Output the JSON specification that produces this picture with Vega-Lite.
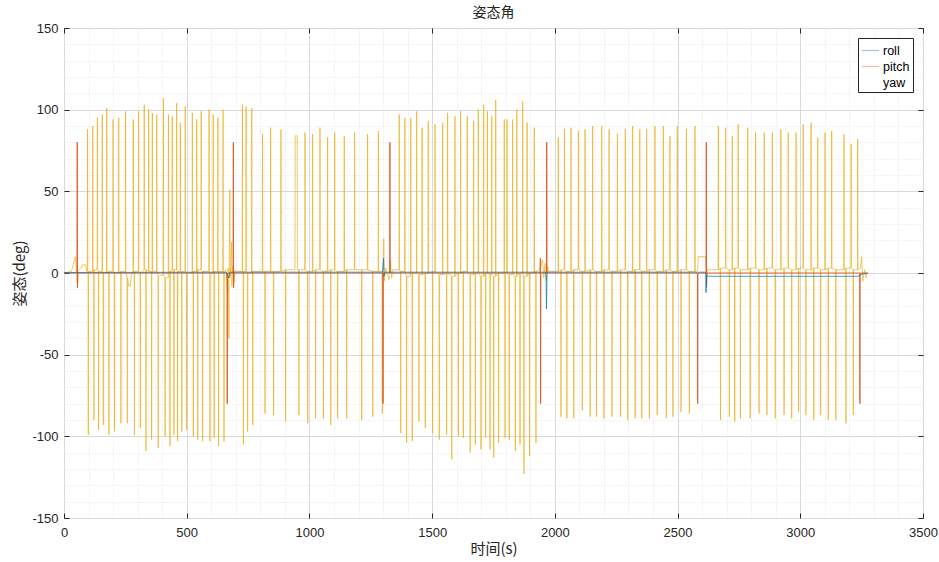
{
"$schema": "https://vega.github.io/schema/vega-lite/v6.json",
"width": 859, "height": 490,
"autosize": "none",
"padding": {"left": 64, "top": 28, "right": 16, "bottom": 44},
"background": "white",
"title": {"text": "姿态角", "font": "Noto Sans CJK SC", "fontSize": 14, "fontWeight": "normal", "color": "#262626", "offset": 2},
"config": {"view": {"stroke": "#a6a6a6", "strokeWidth": 1}},
"datasets": {
"roll": [{"t":0,"v":0.3},{"t":660,"v":0.5},{"t":672,"v":-3},{"t":676,"v":0.5},{"t":1298,"v":0.5},{"t":1302,"v":9},{"t":1304,"v":-2},{"t":1308,"v":0.5},{"t":1964,"v":0.5},{"t":1966,"v":-22},{"t":1968,"v":0.5},{"t":2614,"v":0.5},{"t":2616,"v":-12},{"t":2618,"v":-2},{"t":3240,"v":-2},{"t":3244,"v":-1},{"t":3275,"v":0}],
"pitch": [{"t":0,"v":0},{"t":53,"v":0},{"t":54,"v":80},{"t":55,"v":-9},{"t":57,"v":0},{"t":664,"v":0},{"t":665,"v":-80},{"t":666,"v":0},{"t":689,"v":0},{"t":690,"v":80},{"t":691,"v":-9},{"t":693,"v":0},{"t":1299,"v":0},{"t":1300,"v":-80},{"t":1301,"v":0},{"t":1327,"v":0},{"t":1328,"v":80},{"t":1329,"v":0},{"t":1940,"v":0},{"t":1941,"v":9},{"t":1942,"v":-80},{"t":1943,"v":0},{"t":1966,"v":0},{"t":1967,"v":80},{"t":1968,"v":0},{"t":2581,"v":0},{"t":2582,"v":-80},{"t":2583,"v":0},{"t":2616,"v":0},{"t":2617,"v":80},{"t":2618,"v":-9},{"t":2620,"v":0},{"t":3242,"v":0},{"t":3243,"v":-80},{"t":3244,"v":0},{"t":3275,"v":0}],
"yaw": [
{"t":0,"v":0},{"t":30,"v":1},{"t":38,"v":5},{"t":46,"v":10},{"t":50,"v":4},{"t":53,"v":-6},{"t":56,"v":1},{"t":70,"v":3},{"t":75,"v":5},{"t":88,"v":5},{"t":92,"v":1},
{"t":95,"v":1},{"t":96,"v":88},{"t":97,"v":1},{"t":98,"v":1},{"t":99,"v":-99},{"t":100,"v":1},
{"t":116,"v":1},{"t":117,"v":90},{"t":118,"v":1},{"t":121,"v":2},{"t":122,"v":-90},{"t":123,"v":2},
{"t":135,"v":2},{"t":136,"v":95},{"t":137,"v":2},{"t":140,"v":1},{"t":141,"v":-96},{"t":142,"v":1},
{"t":155,"v":1},{"t":156,"v":97},{"t":157,"v":1},{"t":159,"v":0},{"t":160,"v":-93},{"t":161,"v":0},
{"t":173,"v":0},{"t":174,"v":101},{"t":175,"v":0},{"t":182,"v":1},{"t":183,"v":-99},{"t":184,"v":1},
{"t":199,"v":1},{"t":200,"v":94},{"t":201,"v":1},{"t":205,"v":0},{"t":206,"v":-97},{"t":207,"v":0},
{"t":222,"v":0},{"t":223,"v":95},{"t":224,"v":0},{"t":231,"v":1},{"t":232,"v":-92},{"t":233,"v":1},
{"t":250,"v":1},{"t":251,"v":99},{"t":252,"v":1},{"t":257,"v":-3},{"t":258,"v":-92},{"t":259,"v":-3},
{"t":264,"v":-8},{"t":270,"v":-8},{"t":275,"v":0},
{"t":281,"v":0},{"t":282,"v":94},{"t":283,"v":0},{"t":286,"v":1},{"t":287,"v":-99},{"t":288,"v":1},
{"t":303,"v":1},{"t":304,"v":99},{"t":305,"v":1},{"t":310,"v":0},{"t":311,"v":-95},{"t":312,"v":0},
{"t":326,"v":2},{"t":327,"v":103},{"t":328,"v":2},{"t":333,"v":2},{"t":334,"v":-109},{"t":335,"v":2},
{"t":344,"v":1},{"t":345,"v":100},{"t":346,"v":1},{"t":356,"v":1},{"t":357,"v":-102},{"t":358,"v":1},
{"t":359,"v":1},{"t":360,"v":98},{"t":361,"v":1},
{"t":377,"v":1},{"t":378,"v":97},{"t":379,"v":1},{"t":383,"v":-2},{"t":384,"v":-107},{"t":385,"v":-2},
{"t":404,"v":-1},{"t":405,"v":107},{"t":406,"v":-1},{"t":411,"v":-3},{"t":412,"v":-100},{"t":413,"v":-3},
{"t":425,"v":-3},{"t":426,"v":97},{"t":427,"v":1},{"t":431,"v":1},{"t":432,"v":-106},{"t":433,"v":1},
{"t":440,"v":1},{"t":441,"v":96},{"t":442,"v":2},{"t":447,"v":2},{"t":448,"v":-99},{"t":449,"v":2},
{"t":458,"v":2},{"t":459,"v":104},{"t":460,"v":2},{"t":462,"v":1},{"t":463,"v":-103},{"t":464,"v":1},
{"t":473,"v":1},{"t":474,"v":92},{"t":475,"v":1},{"t":479,"v":1},{"t":480,"v":-97},{"t":481,"v":1},
{"t":493,"v":1},{"t":494,"v":102},{"t":495,"v":1},{"t":499,"v":0},{"t":500,"v":-96},{"t":501,"v":0},
{"t":522,"v":0},{"t":523,"v":98},{"t":524,"v":0},{"t":526,"v":1},{"t":527,"v":-100},{"t":528,"v":1},
{"t":540,"v":1},{"t":541,"v":94},{"t":542,"v":1},{"t":544,"v":2},{"t":545,"v":-102},{"t":546,"v":2},
{"t":558,"v":2},{"t":559,"v":99},{"t":560,"v":2},{"t":564,"v":1},{"t":565,"v":-103},{"t":566,"v":1},
{"t":590,"v":1},{"t":591,"v":100},{"t":592,"v":1},{"t":594,"v":0},{"t":595,"v":-103},{"t":596,"v":0},
{"t":607,"v":0},{"t":608,"v":97},{"t":609,"v":0},{"t":611,"v":1},{"t":612,"v":-101},{"t":613,"v":1},
{"t":626,"v":1},{"t":627,"v":95},{"t":628,"v":1},{"t":629,"v":1},{"t":630,"v":-106},{"t":631,"v":1},
{"t":647,"v":1},{"t":648,"v":100},{"t":649,"v":1},{"t":651,"v":0},{"t":652,"v":-103},{"t":653,"v":0},
{"t":660,"v":2},{"t":664,"v":-5},{"t":667,"v":-12},{"t":669,"v":3},{"t":672,"v":-40},{"t":673,"v":2},{"t":676,"v":51},{"t":677,"v":-3},{"t":680,"v":5},{"t":683,"v":19},{"t":684,"v":-8},{"t":688,"v":4},{"t":692,"v":-6},{"t":696,"v":2},{"t":700,"v":1},
{"t":726,"v":1},{"t":727,"v":103},{"t":728,"v":1},{"t":730,"v":1},{"t":731,"v":-105},{"t":732,"v":1},
{"t":741,"v":1},{"t":742,"v":102},{"t":743,"v":1},{"t":747,"v":0},{"t":748,"v":-97},{"t":749,"v":0},
{"t":764,"v":0},{"t":765,"v":101},{"t":766,"v":0},{"t":768,"v":1},{"t":769,"v":-93},{"t":770,"v":1},
{"t":808,"v":1},{"t":809,"v":85},{"t":810,"v":1},{"t":818,"v":1},{"t":819,"v":-86},{"t":820,"v":1},
{"t":841,"v":1},{"t":842,"v":89},{"t":843,"v":1},{"t":853,"v":1},{"t":854,"v":-87},{"t":855,"v":1},
{"t":883,"v":1},{"t":884,"v":88},{"t":885,"v":1},{"t":902,"v":2},{"t":903,"v":-91},{"t":904,"v":2},
{"t":941,"v":2},{"t":942,"v":84},{"t":950,"v":84},{"t":951,"v":2},{"t":956,"v":2},{"t":957,"v":-87},{"t":958,"v":2},
{"t":981,"v":2},{"t":982,"v":86},{"t":983,"v":2},{"t":992,"v":1},{"t":993,"v":-92},{"t":994,"v":1},
{"t":1012,"v":1},{"t":1013,"v":85},{"t":1014,"v":1},{"t":1024,"v":2},{"t":1025,"v":-89},{"t":1026,"v":2},
{"t":1042,"v":2},{"t":1043,"v":89},{"t":1044,"v":2},{"t":1056,"v":1},{"t":1057,"v":-89},{"t":1058,"v":1},
{"t":1073,"v":1},{"t":1074,"v":83},{"t":1075,"v":1},{"t":1086,"v":2},{"t":1087,"v":-93},{"t":1088,"v":2},
{"t":1102,"v":2},{"t":1103,"v":86},{"t":1104,"v":2},{"t":1114,"v":1},{"t":1115,"v":-89},{"t":1116,"v":1},
{"t":1141,"v":1},{"t":1142,"v":84},{"t":1143,"v":1},{"t":1151,"v":2},{"t":1152,"v":-89},{"t":1153,"v":2},
{"t":1183,"v":2},{"t":1184,"v":86},{"t":1185,"v":2},{"t":1212,"v":2},{"t":1213,"v":-90},{"t":1214,"v":2},
{"t":1236,"v":2},{"t":1237,"v":85},{"t":1238,"v":2},{"t":1257,"v":1},{"t":1258,"v":-88},{"t":1259,"v":1},
{"t":1280,"v":1},{"t":1281,"v":87},{"t":1282,"v":1},{"t":1296,"v":1},{"t":1297,"v":-86},{"t":1298,"v":1},
{"t":1300,"v":5},{"t":1303,"v":21},{"t":1305,"v":-5},{"t":1310,"v":3},{"t":1318,"v":-1},{"t":1324,"v":-4},{"t":1330,"v":8},{"t":1335,"v":-3},{"t":1340,"v":2},
{"t":1365,"v":2},{"t":1366,"v":97},{"t":1367,"v":2},{"t":1371,"v":1},{"t":1372,"v":-98},{"t":1373,"v":1},
{"t":1388,"v":1},{"t":1389,"v":95},{"t":1390,"v":1},{"t":1395,"v":-2},{"t":1396,"v":-104},{"t":1397,"v":-2},
{"t":1412,"v":-2},{"t":1413,"v":95},{"t":1414,"v":0},{"t":1418,"v":0},{"t":1419,"v":-103},{"t":1420,"v":0},
{"t":1436,"v":0},{"t":1437,"v":99},{"t":1438,"v":0},{"t":1445,"v":-1},{"t":1446,"v":-91},{"t":1447,"v":-1},
{"t":1458,"v":-1},{"t":1459,"v":89},{"t":1460,"v":-1},{"t":1471,"v":0},{"t":1472,"v":-95},{"t":1473,"v":0},
{"t":1483,"v":0},{"t":1484,"v":93},{"t":1485,"v":0},{"t":1501,"v":1},{"t":1502,"v":-98},{"t":1503,"v":1},
{"t":1511,"v":1},{"t":1512,"v":91},{"t":1513,"v":1},{"t":1528,"v":-1},{"t":1529,"v":-102},{"t":1530,"v":-1},
{"t":1542,"v":-1},{"t":1543,"v":92},{"t":1544,"v":-1},{"t":1558,"v":0},{"t":1559,"v":-99},{"t":1560,"v":0},
{"t":1562,"v":0},{"t":1563,"v":98},{"t":1564,"v":0},{"t":1579,"v":-2},{"t":1580,"v":-114},{"t":1581,"v":-2},
{"t":1592,"v":-2},{"t":1593,"v":96},{"t":1594,"v":-2},{"t":1606,"v":0},{"t":1607,"v":-100},{"t":1608,"v":0},
{"t":1615,"v":0},{"t":1616,"v":99},{"t":1617,"v":0},{"t":1626,"v":1},{"t":1627,"v":-101},{"t":1628,"v":1},
{"t":1642,"v":1},{"t":1643,"v":96},{"t":1644,"v":1},{"t":1654,"v":-1},{"t":1655,"v":-110},{"t":1656,"v":-1},
{"t":1668,"v":-1},{"t":1669,"v":93},{"t":1670,"v":-1},{"t":1675,"v":0},{"t":1676,"v":-105},{"t":1677,"v":0},
{"t":1687,"v":0},{"t":1688,"v":100},{"t":1689,"v":0},{"t":1698,"v":-2},{"t":1699,"v":-108},{"t":1700,"v":-2},
{"t":1709,"v":-2},{"t":1710,"v":103},{"t":1711,"v":-2},{"t":1717,"v":0},{"t":1718,"v":-101},{"t":1719,"v":0},
{"t":1724,"v":0},{"t":1725,"v":99},{"t":1726,"v":0},{"t":1735,"v":-1},{"t":1736,"v":-108},{"t":1737,"v":-1},
{"t":1742,"v":-1},{"t":1743,"v":96},{"t":1744,"v":-1},{"t":1750,"v":-2},{"t":1751,"v":-113},{"t":1752,"v":-2},
{"t":1758,"v":-2},{"t":1759,"v":106},{"t":1760,"v":-2},{"t":1770,"v":0},{"t":1771,"v":-104},{"t":1772,"v":0},
{"t":1793,"v":0},{"t":1794,"v":94},{"t":1795,"v":0},{"t":1796,"v":0},{"t":1797,"v":-101},{"t":1798,"v":0},
{"t":1804,"v":0},{"t":1805,"v":94},{"t":1806,"v":0},{"t":1813,"v":-1},{"t":1814,"v":-102},{"t":1815,"v":-1},
{"t":1827,"v":-1},{"t":1828,"v":94},{"t":1829,"v":-1},{"t":1838,"v":-2},{"t":1839,"v":-109},{"t":1840,"v":-2},
{"t":1844,"v":-2},{"t":1845,"v":100},{"t":1846,"v":-2},{"t":1857,"v":0},{"t":1858,"v":-105},{"t":1859,"v":0},
{"t":1868,"v":0},{"t":1869,"v":105},{"t":1870,"v":0},{"t":1873,"v":-2},{"t":1874,"v":-123},{"t":1875,"v":-2},
{"t":1886,"v":-2},{"t":1887,"v":92},{"t":1888,"v":-2},{"t":1896,"v":0},{"t":1897,"v":-112},{"t":1898,"v":0},
{"t":1915,"v":0},{"t":1916,"v":89},{"t":1917,"v":0},{"t":1922,"v":1},{"t":1923,"v":-104},{"t":1924,"v":1},
{"t":1935,"v":2},{"t":1945,"v":5},{"t":1950,"v":8},{"t":1955,"v":-3},{"t":1960,"v":6},{"t":1965,"v":-5},{"t":1970,"v":4},{"t":1975,"v":1},
{"t":2013,"v":1},{"t":2014,"v":83},{"t":2015,"v":1},{"t":2024,"v":2},{"t":2025,"v":-88},{"t":2026,"v":2},
{"t":2038,"v":2},{"t":2039,"v":88},{"t":2040,"v":2},{"t":2048,"v":1},{"t":2049,"v":-89},{"t":2050,"v":1},
{"t":2065,"v":1},{"t":2066,"v":89},{"t":2067,"v":1},{"t":2076,"v":2},{"t":2077,"v":-89},{"t":2078,"v":2},
{"t":2095,"v":2},{"t":2096,"v":87},{"t":2097,"v":2},{"t":2111,"v":1},{"t":2112,"v":-84},{"t":2113,"v":1},
{"t":2122,"v":1},{"t":2123,"v":88},{"t":2124,"v":1},{"t":2143,"v":2},{"t":2144,"v":-88},{"t":2145,"v":2},
{"t":2153,"v":2},{"t":2154,"v":90},{"t":2155,"v":2},{"t":2169,"v":1},{"t":2170,"v":-88},{"t":2171,"v":1},
{"t":2190,"v":1},{"t":2191,"v":90},{"t":2192,"v":1},{"t":2199,"v":2},{"t":2200,"v":-89},{"t":2201,"v":2},
{"t":2220,"v":2},{"t":2221,"v":88},{"t":2222,"v":2},{"t":2232,"v":1},{"t":2233,"v":-88},{"t":2234,"v":1},
{"t":2254,"v":1},{"t":2255,"v":85},{"t":2256,"v":1},{"t":2267,"v":2},{"t":2268,"v":-88},{"t":2269,"v":2},
{"t":2286,"v":2},{"t":2287,"v":88},{"t":2288,"v":2},{"t":2296,"v":1},{"t":2297,"v":-90},{"t":2298,"v":1},
{"t":2316,"v":1},{"t":2317,"v":90},{"t":2318,"v":1},{"t":2326,"v":2},{"t":2327,"v":-89},{"t":2328,"v":2},
{"t":2345,"v":2},{"t":2346,"v":88},{"t":2347,"v":2},{"t":2353,"v":1},{"t":2354,"v":-89},{"t":2355,"v":1},
{"t":2373,"v":1},{"t":2374,"v":88},{"t":2375,"v":1},{"t":2384,"v":2},{"t":2385,"v":-89},{"t":2386,"v":2},
{"t":2407,"v":2},{"t":2408,"v":90},{"t":2409,"v":2},{"t":2416,"v":1},{"t":2417,"v":-87},{"t":2418,"v":1},
{"t":2441,"v":1},{"t":2442,"v":90},{"t":2443,"v":1},{"t":2453,"v":2},{"t":2454,"v":-89},{"t":2455,"v":2},
{"t":2468,"v":2},{"t":2469,"v":84},{"t":2470,"v":2},{"t":2480,"v":1},{"t":2481,"v":-88},{"t":2482,"v":1},
{"t":2498,"v":1},{"t":2499,"v":90},{"t":2500,"v":1},{"t":2513,"v":2},{"t":2514,"v":-85},{"t":2515,"v":2},
{"t":2535,"v":2},{"t":2536,"v":88},{"t":2537,"v":2},{"t":2547,"v":1},{"t":2548,"v":-86},{"t":2549,"v":1},
{"t":2570,"v":1},{"t":2571,"v":90},{"t":2572,"v":1},
{"t":2582,"v":2},{"t":2585,"v":10},{"t":2615,"v":10},{"t":2618,"v":-3},{"t":2622,"v":2},
{"t":2665,"v":2},{"t":2666,"v":90},{"t":2667,"v":2},{"t":2674,"v":3},{"t":2675,"v":-90},{"t":2676,"v":3},
{"t":2695,"v":3},{"t":2696,"v":89},{"t":2697,"v":3},{"t":2710,"v":2},{"t":2711,"v":-88},{"t":2712,"v":2},
{"t":2722,"v":2},{"t":2723,"v":84},{"t":2724,"v":2},{"t":2732,"v":3},{"t":2733,"v":-91},{"t":2734,"v":3},
{"t":2746,"v":3},{"t":2747,"v":91},{"t":2748,"v":3},{"t":2755,"v":2},{"t":2756,"v":-89},{"t":2757,"v":2},
{"t":2785,"v":2},{"t":2786,"v":89},{"t":2787,"v":2},{"t":2795,"v":3},{"t":2796,"v":-89},{"t":2797,"v":3},
{"t":2817,"v":3},{"t":2818,"v":86},{"t":2819,"v":3},{"t":2831,"v":2},{"t":2832,"v":-86},{"t":2833,"v":2},
{"t":2852,"v":2},{"t":2853,"v":86},{"t":2854,"v":2},{"t":2863,"v":3},{"t":2864,"v":-87},{"t":2865,"v":3},
{"t":2885,"v":3},{"t":2886,"v":86},{"t":2887,"v":3},{"t":2897,"v":2},{"t":2898,"v":-89},{"t":2899,"v":2},
{"t":2920,"v":2},{"t":2921,"v":88},{"t":2922,"v":2},{"t":2933,"v":3},{"t":2934,"v":-87},{"t":2935,"v":3},
{"t":2950,"v":3},{"t":2951,"v":86},{"t":2952,"v":3},{"t":2964,"v":2},{"t":2965,"v":-89},{"t":2966,"v":2},
{"t":2982,"v":2},{"t":2983,"v":86},{"t":2984,"v":2},{"t":2992,"v":3},{"t":2993,"v":-85},{"t":2994,"v":3},
{"t":3011,"v":3},{"t":3012,"v":91},{"t":3013,"v":3},{"t":3022,"v":2},{"t":3023,"v":-87},{"t":3024,"v":2},
{"t":3043,"v":2},{"t":3044,"v":92},{"t":3045,"v":2},{"t":3054,"v":3},{"t":3055,"v":-90},{"t":3056,"v":3},
{"t":3070,"v":3},{"t":3071,"v":83},{"t":3072,"v":3},{"t":3082,"v":2},{"t":3083,"v":-87},{"t":3084,"v":2},
{"t":3100,"v":2},{"t":3101,"v":86},{"t":3102,"v":2},{"t":3113,"v":3},{"t":3114,"v":-90},{"t":3115,"v":3},
{"t":3127,"v":3},{"t":3128,"v":87},{"t":3129,"v":3},{"t":3144,"v":2},{"t":3145,"v":-90},{"t":3146,"v":2},
{"t":3177,"v":2},{"t":3178,"v":85},{"t":3179,"v":2},{"t":3185,"v":3},{"t":3186,"v":-92},{"t":3187,"v":3},
{"t":3206,"v":3},{"t":3207,"v":79},{"t":3208,"v":3},{"t":3215,"v":2},{"t":3216,"v":-87},{"t":3217,"v":2},
{"t":3233,"v":2},{"t":3234,"v":82},{"t":3235,"v":2},
{"t":3245,"v":3},{"t":3250,"v":10},{"t":3255,"v":-5},{"t":3262,"v":2},{"t":3268,"v":-3},{"t":3272,"v":0}
]
},
"layer": [
{
"data": {"name": "yaw"},
"mark": {"type": "line", "strokeWidth": 1, "opacity": 0.7, "clip": true},
"encoding": {
"x": {"field": "t", "type": "quantitative", "scale": {"domain": [0, 3500], "nice": false, "zero": false},
 "axis": {"orient": "bottom", "values": [0,100,200,300,400,500,600,700,800,900,1000,1100,1200,1300,1400,1500,1600,1700,1800,1900,2000,2100,2200,2300,2400,2500,2600,2700,2800,2900,3000,3100,3200,3300,3400,3500],
  "labelExpr": "datum.value % 500 === 0 ? '' + datum.value : ''", "labelFont": "Liberation Sans", "labelFontSize": 13, "labelColor": "#262626", "labelPadding": 13, "labelFlush": false, "labelOverlap": false, "labelBound": false,
  "tickSize": -5, "tickColor": "#262626", "tickOpacity": {"condition": {"test": "datum.value % 500 === 0", "value": 1}, "value": 0},
  "grid": true, "gridColor": {"condition": {"test": "datum.value % 500 === 0", "value": "#d9d9d9"}, "value": "#e3e3e3"}, "gridDash": {"condition": {"test": "datum.value % 500 === 0", "value": []}, "value": [1, 2]},
  "domain": false, "title": "时间(s)", "titleFont": "Noto Sans CJK SC", "titleFontSize": 15, "titleFontWeight": "normal", "titleColor": "#262626", "titlePadding": 2}},
"y": {"field": "v", "type": "quantitative", "scale": {"domain": [-150, 150], "nice": false, "zero": false},
 "axis": {"orient": "left", "values": [-150,-140,-130,-120,-110,-100,-90,-80,-70,-60,-50,-40,-30,-20,-10,0,10,20,30,40,50,60,70,80,90,100,110,120,130,140,150],
  "labelExpr": "datum.value % 50 === 0 ? '' + datum.value : ''", "labelFont": "Liberation Sans", "labelFontSize": 13, "labelColor": "#262626", "labelPadding": 11, "labelFlush": false, "labelOverlap": false, "labelBound": false,
  "tickSize": -5, "tickColor": "#262626", "tickOpacity": {"condition": {"test": "datum.value % 50 === 0", "value": 1}, "value": 0},
  "grid": true, "gridColor": {"condition": {"test": "datum.value % 50 === 0", "value": "#d9d9d9"}, "value": "#e3e3e3"}, "gridDash": {"condition": {"test": "datum.value % 50 === 0", "value": []}, "value": [1, 2]},
  "domain": false, "title": "姿态(deg)", "titleFont": "Noto Sans CJK SC", "titleFontSize": 15, "titleFontWeight": "normal", "titleColor": "#262626", "titlePadding": 4}},
"color": {"datum": "yaw", "type": "nominal", "scale": {"domain": ["roll", "pitch", "yaw"], "range": ["#0072BD", "#D95319", "#EDB120"]},
 "legend": {"title": null, "orient": "top-right", "offset": 10, "symbolType": "stroke", "symbolSize": 300, "symbolStrokeWidth": 1.2, "symbolOpacity": 1, "labelFont": "Liberation Sans", "labelFontSize": 12.5, "labelColor": "#000000", "strokeColor": "#262626", "fillColor": "#ffffff", "padding": 3, "rowPadding": 0, "labelOffset": 3,
  "encode": {"symbols": {"update": {"strokeOpacity": {"signal": "datum.value === 'yaw' ? 0 : 0.4"}}}}}}
}
},
{
"data": {"name": "pitch"},
"mark": {"type": "line", "strokeWidth": 1, "opacity": 0.85, "clip": true},
"encoding": {
"x": {"field": "t", "type": "quantitative", "axis": {"orient": "top", "values": [0,500,1000,1500,2000,2500,3000,3500], "labels": false, "grid": false, "domain": false, "ticks": true, "tickSize": -5, "tickColor": "#262626", "title": null}},
"y": {"field": "v", "type": "quantitative", "axis": {"orient": "right", "values": [-150,-100,-50,0,50,100,150], "labels": false, "grid": false, "domain": false, "ticks": true, "tickSize": -5, "tickColor": "#262626", "title": null}},
"color": {"datum": "pitch", "type": "nominal"}
}
},
{
"data": {"name": "roll"},
"mark": {"type": "line", "strokeWidth": 1, "opacity": 0.7, "clip": true},
"encoding": {
"x": {"field": "t", "type": "quantitative", "axis": null},
"y": {"field": "v", "type": "quantitative", "axis": null},
"color": {"datum": "roll", "type": "nominal"}
}
}
],
"resolve": {"axis": {"x": "independent", "y": "independent"}}
}
